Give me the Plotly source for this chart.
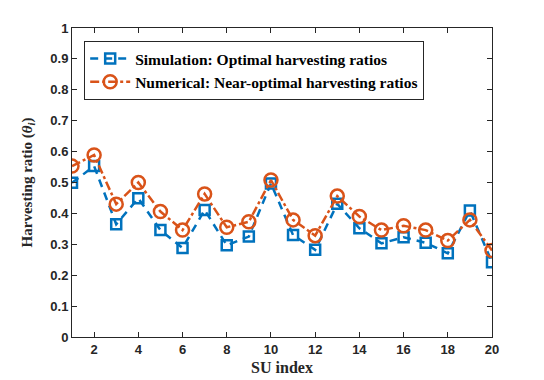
import plotly.graph_objects as go

su_index = list(range(1, 21))
simulation = [0.499, 0.553, 0.365, 0.449, 0.346, 0.288, 0.411, 0.297, 0.325, 0.497,
              0.330, 0.282, 0.431, 0.352, 0.303, 0.323, 0.305, 0.271, 0.409, 0.242]
numerical = [0.553, 0.589, 0.430, 0.500, 0.406, 0.346, 0.463, 0.355, 0.373, 0.508,
             0.379, 0.328, 0.456, 0.390, 0.346, 0.360, 0.346, 0.312, 0.379, 0.280]

blue = "#0072BD"
orange = "#D95319"

fig = go.Figure()
fig.add_trace(go.Scatter(
    x=su_index, y=simulation, mode="lines+markers",
    name="Simulation: Optimal harvesting ratios",
    line=dict(color=blue, width=2.5, dash="8px,6px"),
    marker=dict(symbol="square-open", size=10, color=blue, line=dict(width=2.5)),
))
fig.add_trace(go.Scatter(
    x=su_index, y=numerical, mode="lines+markers",
    name="Numerical: Near-optimal harvesting ratios",
    line=dict(color=orange, width=2.5, dash="dashdot"),
    marker=dict(symbol="circle-open", size=13, color=orange, line=dict(width=2.5)),
))

axis_common = dict(
    showgrid=False, zeroline=False, showline=True, linecolor="#262626", linewidth=1,
    mirror="ticks", ticks="inside", ticklen=5, tickcolor="#262626", automargin=False,
    tickfont=dict(family="Liberation Sans", size=13, color="#262626", weight="bold"),
)

fig.update_xaxes(
    range=[1, 20], tickvals=list(range(2, 21, 2)),
    title=dict(text="SU index", standoff=6,
               font=dict(family="Liberation Serif", size=16, color="#262626", weight="bold")),
    **axis_common,
)
fig.update_yaxes(
    range=[0, 1], tickvals=[0, 0.1, 0.2, 0.3, 0.4, 0.5, 0.6, 0.7, 0.8, 0.9, 1],
    ticktext=["0", "0.1", "0.2", "0.3", "0.4", "0.5", "0.6", "0.7", "0.8", "0.9", "1"],
    title=dict(text="Harvesting ratio (<i>θ</i><sub><i>i</i></sub>)", standoff=14,
               font=dict(family="Liberation Serif", size=15, color="#262626", weight="bold")),
    **axis_common,
)

# page body has an 8px margin, so the figure is a bit smaller than the window
fig.update_layout(
    width=536, height=372,
    margin=dict(l=64, r=52, t=20, b=43),
    plot_bgcolor="white", paper_bgcolor="white",
    legend=dict(
        x=0.029, y=0.958, xanchor="left", yanchor="top",
        bgcolor="white", bordercolor="#262626", borderwidth=1,
        font=dict(family="Liberation Serif", size=15.5, color="black", weight="bold"),
        tracegroupgap=0, itemwidth=40,
    ),
)

fig.write_html("out.html")
